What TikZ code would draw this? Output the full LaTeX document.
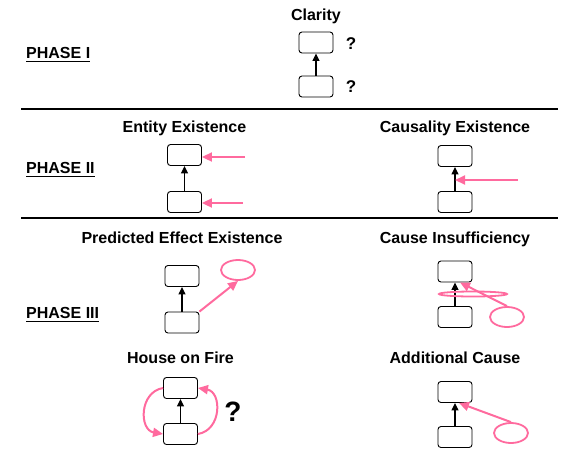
\documentclass[tikz,border=0pt]{standalone}
\usepackage{fontspec}
\setmainfont{Liberation Sans}
\usetikzlibrary{arrows.meta,shapes.geometric}

\definecolor{flagpink}{HTML}{FF6A9E}

\tikzset{
  stage/.style={draw, rounded corners=3pt, minimum width=34pt, minimum height=21pt, inner sep=0pt, line width=0.9pt},
  link/.style={-{Triangle[width=7pt,length=7.5pt]}, line width=1.1pt},
  flag/.style={-{Triangle[width=9pt,length=10pt]}, flagpink, line width=2pt},
  blob/.style={ellipse, draw=flagpink, line width=1.8pt, minimum width=34pt, minimum height=20pt, inner sep=0pt},
  title/.style={font=\fontsize{16}{19}\selectfont\bfseries, anchor=base},
  phase/.style={font=\fontsize{16}{19}\selectfont\bfseries, anchor=base west, inner sep=0pt},
  query/.style={font=\fontsize{17}{20}\selectfont\bfseries},
  uline/.style={line width=1.6pt},
  divider/.style={line width=1.8pt}
}

\begin{document}
\begin{tikzpicture}[x=1pt, y=-1pt]

  \useasboundingbox (0, 0) rectangle (563, 459);

  % Phase labels
  \node (ph1) at (26, 58) [phase] {PHASE I};
  \draw[uline] ([yshift=-3.5pt]ph1.base west) -- ([yshift=-3.5pt]ph1.base east);
  \node (ph2) at (26, 173) [phase] {PHASE II};
  \draw[uline] ([yshift=-3.5pt]ph2.base west) -- ([yshift=-3.5pt]ph2.base east);
  \node (ph3) at (26, 318) [phase] {PHASE III};
  \draw[uline] ([yshift=-3.5pt]ph3.base west) -- ([yshift=-3.5pt]ph3.base east);

  % Dividers
  \draw[divider] (21, 109) -- (558, 109);
  \draw[divider] (21, 218) -- (558, 218);

  % Clarity
  \node (tClar) at (316, 20) [title] {Clarity};
  \node (clTop) at (316, 42.5) [stage] {};
  \node (clBot) at (316, 86.5) [stage] {};
  \draw[link] (clBot) -- (clTop);
  \node (clQ1) at (351, 44) [query] {?};
  \node (clQ2) at (351, 87) [query] {?};

  % Entity existence
  \node (tEnt) at (184.5, 132) [title] {Entity Existence};
  \node (enTop) at (184.5, 155) [stage] {};
  \node (enBot) at (184.5, 202) [stage] {};
  \draw[link] (enBot) -- (enTop);
  \coordinate (enIn1) at (245, 157);
  \coordinate (enIn2) at (243, 203);
  \draw[flag] (enIn1) -- (enIn1 -| enTop.east);
  \draw[flag] (enIn2) -- (enIn2 -| enBot.east);

  % Causality existence
  \node (tCau) at (455, 132) [title] {Causality Existence};
  \node (caTop) at (455, 156) [stage] {};
  \node (caBot) at (455, 202) [stage] {};
  \draw[link] (caBot) -- (caTop);
  \coordinate (caIn) at (518, 180);
  \draw[flag] (caIn) -- (caIn -| caTop.center);

  % Predicted effect existence
  \node (tPre) at (182, 243) [title] {Predicted Effect Existence};
  \node (peTop) at (182, 276) [stage] {};
  \node (peBot) at (182, 322.5) [stage] {};
  \draw[link] (peBot) -- (peTop);
  \node (peEff) at (238, 270) [blob] {};
  \draw[flag] (peBot.north east) -- (peEff.south);

  % Cause insufficiency
  \node (tIns) at (455, 243) [title] {Cause Insufficiency};
  \node (ciTop) at (455, 271.5) [stage] {};
  \node (ciBot) at (455, 317) [stage] {};
  \draw[link] (ciBot) -- (ciTop);
  \node (ciBar) at (473, 294) [blob, minimum width=68pt, minimum height=5pt] {};
  \node (ciCause) at (507, 317) [blob] {};
  \draw[flag] (ciCause.north) -- ([xshift=5pt]ciTop.south);

  % House on fire
  \node (tHou) at (180.5, 363) [title] {House on Fire};
  \node (hfTop) at (180.5, 388) [stage] {};
  \node (hfBot) at (180.5, 434) [stage] {};
  \draw[link] (hfBot) -- (hfTop);
  \draw[flag] (hfTop.west) .. controls +(-24, 4) and +(-24, -4) .. (hfBot.west);
  \draw[flag] (hfBot.east) .. controls +(24, -4) and +(24, 4) .. (hfTop.east);
  \node (hfQ) at (233, 412) [query, font=\fontsize{28}{32}\selectfont\bfseries] {?};

  % Additional cause
  \node (tAdd) at (455, 363) [title] {Additional Cause};
  \node (acTop) at (455, 392) [stage] {};
  \node (acBot) at (455, 437) [stage] {};
  \draw[link] (acBot) -- (acTop);
  \node (acCause) at (511, 433) [blob] {};
  \draw[flag] (acCause.north) -- ([xshift=4pt]acTop.south);

\end{tikzpicture}
\end{document}
